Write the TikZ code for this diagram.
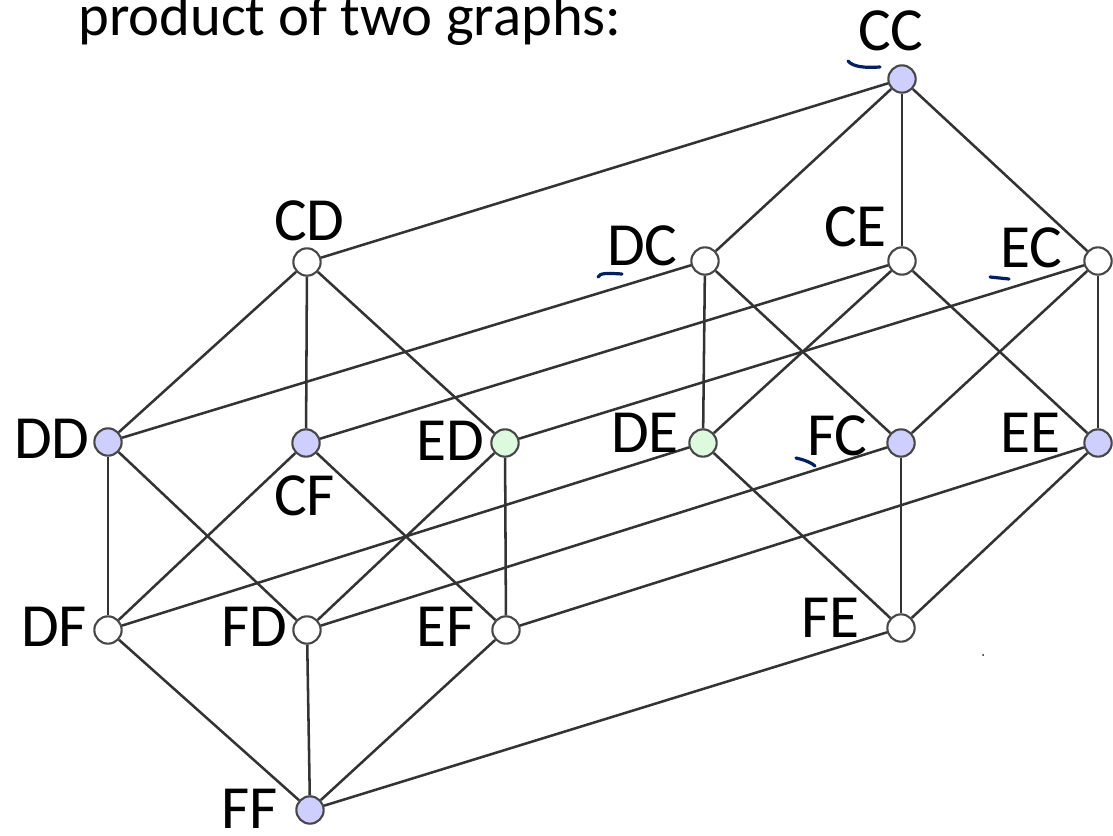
\documentclass[tikz,border=0pt]{standalone}
\usepackage{fontspec}
\setmainfont{Carlito}
\definecolor{lav}{RGB}{206,206,255}
\definecolor{mint}{RGB}{222,250,222}
\definecolor{navy}{RGB}{0,32,96}
\begin{document}
\begin{tikzpicture}[x=0.75pt,y=-0.75pt,
  vtx/.style={circle, draw=black!72, line width=1.6pt, minimum size=20.5pt, inner sep=0pt},
  vb/.style={vtx, fill=lav},
  vg/.style={vtx, fill=mint},
  vw/.style={vtx, fill=white},
  lbl/.style={anchor=base west, inner sep=0pt, font=\fontsize{46}{52}\selectfont},
  ttl/.style={anchor=base west, inner sep=0pt, font=\fontsize{44}{50}\selectfont},
  edge/.style={draw=black!80, line width=1.9pt},
  inkline/.style={draw=navy, line width=2.4pt, line cap=round}]
\useasboundingbox (0,0) rectangle (1113,835);

\node[ttl] (title) at (78,36) {product of two graphs:};

% left block vertices
\node[vw] (CD) at (307,262) {};
\node[vb] (DD) at (108,442) {};
\node[vb] (CF) at (306,443) {};
\node[vg] (ED) at (505,443) {};
\node[vw] (DF) at (108,630) {};
\node[vw] (FD) at (307,630) {};
\node[vw] (EF) at (506,630) {};
\node[vb] (FF) at (310,810) {};

% right block vertices
\node[vb] (CC) at (902,79) {};
\node[vw] (DC) at (705,261) {};
\node[vw] (CE) at (902,261) {};
\node[vw] (EC) at (1098,261) {};
\node[vg] (DE) at (703,443) {};
\node[vb] (FC) at (901,443) {};
\node[vb] (EE) at (1098,443) {};
\node[vw] (FE) at (901,628) {};

% edges inside the left block
\draw[edge] (CD) -- (DD);
\draw[edge] (CD) -- (CF);
\draw[edge] (CD) -- (ED);
\draw[edge] (DD) -- (DF);
\draw[edge] (DD) -- (FD);
\draw[edge] (CF) -- (DF);
\draw[edge] (CF) -- (EF);
\draw[edge] (ED) -- (FD);
\draw[edge] (ED) -- (EF);
\draw[edge] (DF) -- (FF);
\draw[edge] (FD) -- (FF);
\draw[edge] (EF) -- (FF);

% edges inside the right block
\draw[edge] (CC) -- (DC);
\draw[edge] (CC) -- (CE);
\draw[edge] (CC) -- (EC);
\draw[edge] (DC) -- (DE);
\draw[edge] (DC) -- (FC);
\draw[edge] (CE) -- (DE);
\draw[edge] (CE) -- (EE);
\draw[edge] (EC) -- (FC);
\draw[edge] (EC) -- (EE);
\draw[edge] (DE) -- (FE);
\draw[edge] (FC) -- (FE);
\draw[edge] (EE) -- (FE);

% edges joining the two blocks
\draw[edge] (CD) -- (CC);
\draw[edge] (DD) -- (DC);
\draw[edge] (CF) -- (CE);
\draw[edge] (ED) -- (EC);
\draw[edge] (DF) -- (DE);
\draw[edge] (FD) -- (FC);
\draw[edge] (EF) -- (EE);
\draw[edge] (FF) -- (FE);

% vertex labels
\node[lbl] (lCC) at (858,50) {CC};
\node[lbl] (lCD) at (274,240) {CD};
\node[lbl] (lDC) at (607,265) {DC};
\node[lbl] (lCE) at (824,246) {CE};
\node[lbl] (lEC) at (1000,267) {EC};
\node[lbl] (lDD) at (14,458) {DD};
\node[lbl] (lCF) at (274,515) {CF};
\node[lbl] (lED) at (416,460) {ED};
\node[lbl] (lDE) at (611,452) {DE};
\node[lbl] (lFC) at (807,455) {FC};
\node[lbl] (lEE) at (1000,452) {EE};
\node[lbl] (lDF) at (21,646) {DF};
\node[lbl] (lFD) at (221,646) {FD};
\node[lbl] (lEF) at (416,646) {EF};
\node[lbl] (lFE) at (801,637) {FE};
\node[lbl] (lFF) at (221,828) {FF};

% pen strokes
\draw[inkline] (848,61) .. controls (853,67) and (865,68) .. (880,67);
\draw[inkline] (598,277) .. controls (600,273) and (606,273) .. (622,274);
\draw[inkline] (990,277) -- (1009,279);
\draw[inkline] (796,458) .. controls (805,460) and (812,463) .. (815,466);
\fill[navy] (983,655) circle (1);
\end{tikzpicture}
\end{document}
